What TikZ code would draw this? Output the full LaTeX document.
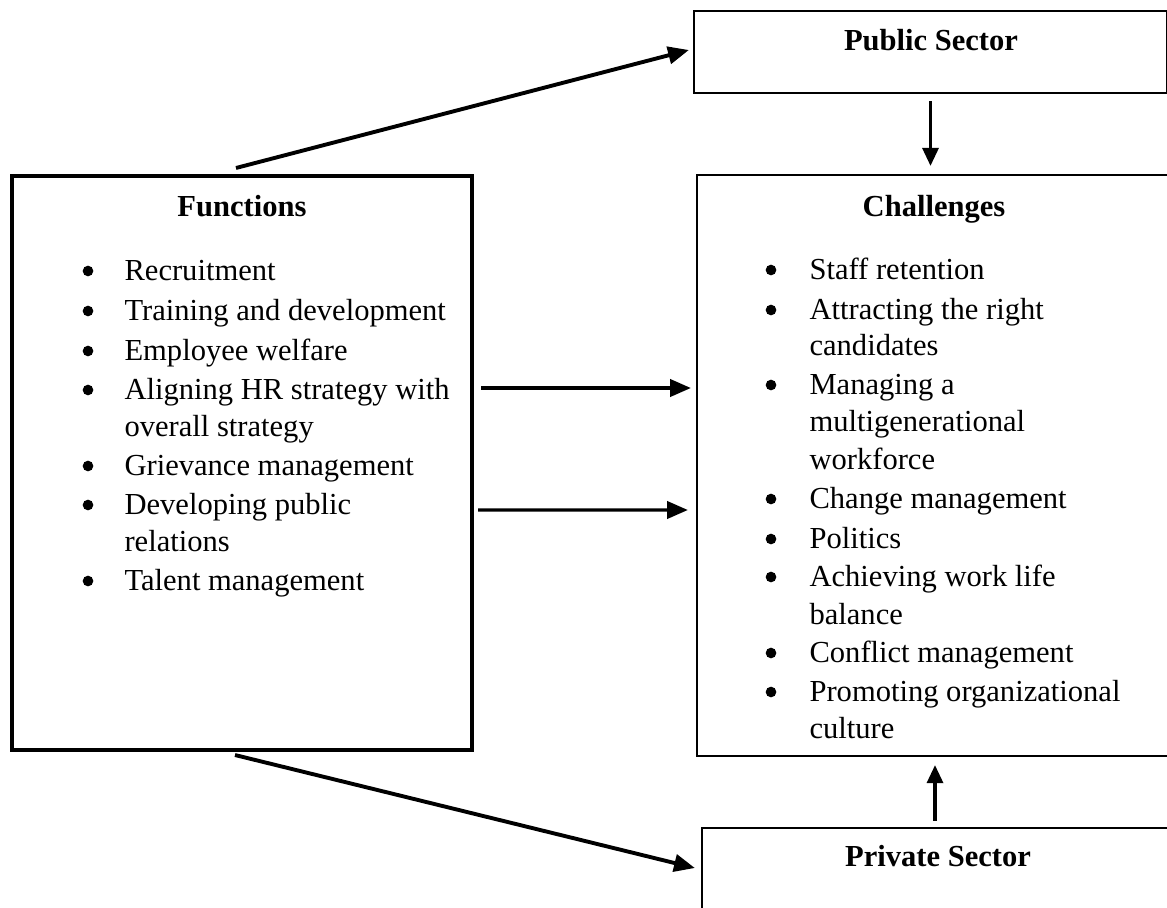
\documentclass[tikz,border=0pt]{standalone}
\usepackage{fontspec}
\setmainfont{Liberation Serif}
\usetikzlibrary{calc,arrows.meta}
\begin{document}
\begin{tikzpicture}[x=0.36pt,y=-0.36pt,
  frame/.style={draw,line width=0.8pt,inner sep=0pt},
  txt/.style={anchor=base west,inner sep=0pt,font=\fontsize{11}{13}\selectfont},
  head/.style={anchor=base,inner sep=0pt,font=\fontsize{11}{13}\selectfont\bfseries},
  dot/.style={circle,draw=black,fill=black,line width=0.4pt,inner sep=0pt,minimum size=3.4pt},
  link/.style={line width=1.4pt,-{Triangle[length=7.5pt,width=6.2pt]}},
  vlink/.style={line width=1.1pt,-{Triangle[length=6.5pt,width=5.8pt]}}]
\useasboundingbox (0,0) rectangle (1167,907);

% boxes
\node[frame,line width=1.45pt,minimum width=165.6pt,minimum height=206.64pt] (func) at (242,463) {};
\node[frame,minimum width=170.28pt,minimum height=29.52pt] (pub) at (930.5,52) {};
\node[frame,minimum width=171pt,minimum height=209.16pt] (chal) at (934.5,465.5) {};
\node[frame,minimum width=169.2pt,minimum height=36.72pt] (priv) at (937,879) {};

% headings
\node[head] (funch) at (242,217) {Functions};
\node[head] (chalh) at (934,217) {Challenges};
\node[head] (pubh) at (931,51) {Public Sector};
\node[head] (privh) at (938,866) {Private Sector};

% list of functions
\foreach \n/\yy/\t/\b in {1/280/Recruitment/1, 2/320/Training and development/1,
  3/360/Employee welfare/1, 4/399/Aligning HR strategy with/1, 5/436/overall strategy/0,
  6/475/Grievance management/1, 7/514/Developing public/1, 8/551/relations/0,
  9/590/Talent management/1}{
  \node[txt] (f\n) at (124,\yy) {\t};
  \ifnum\b=1 \node[dot] (fb\n) at ({88},{\yy-9}) {}; \fi
}

% list of challenges
\foreach \n/\yy/\t/\b in {1/279/Staff retention/1, 2/319/Attracting the right/1,
  3/355/candidates/0, 4/394/Managing a/1, 5/431/multigenerational/0, 6/469/workforce/0,
  7/508/Change management/1, 8/548/Politics/1, 9/586/Achieving work life/1,
  10/624/balance/0, 11/662/Conflict management/1, 12/701/Promoting organizational/1,
  13/738/culture/0}{
  \node[txt] (c\n) at (809,\yy) {\t};
  \ifnum\b=1 \node[dot] (cb\n) at ({771},{\yy-9}) {}; \fi
}

% connectors
\draw[link] ($(func.north)+(-6,-6)$) -- ($(pub.west)+(-4,-2)$);
\draw[link] ($(func.south)+(-7,3)$) -- ($(priv.west)+(-6,-11)$);
\draw[link,line width=1.2pt] ($(func.east)+(7,-75)$) -- ($(chal.west)+(-5,-77.5)$);
\draw[link,line width=1.2pt] ($(func.east)+(4,47)$) -- ($(chal.west)+(-8,44.5)$);
\draw[vlink] ($(pub.south)+(0,7)$) -- ($(pub.south |- chal.north)+(0,-8)$);
\draw[vlink] ($(priv.north)+(-2,-6)$) -- ($(priv.north |- chal.south)+(-2,8)$);
\end{tikzpicture}
\end{document}
